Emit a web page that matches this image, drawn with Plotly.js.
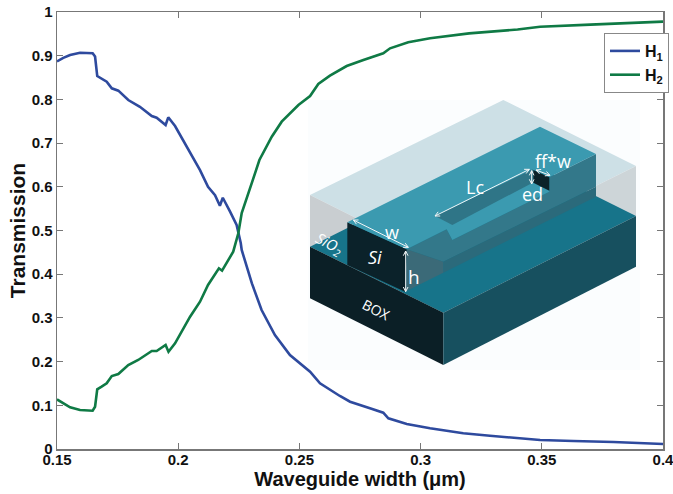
<!DOCTYPE html>
<html>
<head>
<meta charset="utf-8">
<script src="https://cdn.plot.ly/plotly-3.0.1.min.js"></script>
<style>html,body{margin:0;padding:0;background:#fff}#c{width:673px;height:494px}</style>
</head>
<body>
<div id="c"></div>
<script>
const h1Width = [.15,.1526,.1554,.1595,.1647,.1657,.1666,.1705,.1726,.1753,.1794,.1842,.1891,.1911,.1948,.1959,.1987,.2049,.209,.2123,.2152,.2172,.2184,.2214,.2241,.2258,.2262,.2304,.2344,.2399,.2461,.2544,.2585,.2667,.2709,.2791,.2846,.2867,.2943,.3039,.3176,.3286,.3493,.363,.3795,.4];
const h1Values = [.887,.895,.9016,.9068,.9055,.898,.8535,.8405,.8253,.82,.7986,.783,.762,.758,.7414,.759,.739,.6766,.638,.6,.581,.5567,.575,.543,.5126,.4714,.4554,.379,.318,.2609,.2151,.1769,.1503,.1213,.1082,.0931,.0831,.0702,.0572,.0474,.0359,.0304,.0206,.0183,.016,.0114];
const h2Width = [.15,.1526,.1554,.1595,.1647,.1657,.1666,.1684,.1705,.1726,.1753,.1794,.1835,.1891,.1911,.1948,.196,.1987,.2049,.209,.2123,.2168,.2181,.2227,.2248,.2262,.2296,.231,.2335,.2386,.2427,.2496,.2544,.2578,.2626,.2695,.2764,.2846,.2874,.2949,.3039,.32,.34,.3493,.37,.385,.4];
const h2Values = [.1136,.1045,.0954,.0892,.0877,.0968,.1366,.1426,.1503,.167,.1716,.1922,.2037,.2243,.2243,.238,.2227,.2419,.3028,.337,.3753,.4135,.408,.4515,.4936,.54,.6,.6194,.6613,.7147,.749,.787,.8078,.8352,.8542,.8764,.8902,.9055,.9169,.9307,.9398,.951,.96,.9664,.971,.975,.978];
const xTicks = [.15,.2,.25,.3,.35,.4];
const xLabels = ['0.15','0.2','0.25','0.3','0.35','0.4'];
const yTicks = [0,.1,.2,.3,.4,.5,.6,.7,.8,.9,1];
const yLabels = ['0','0.1','0.2','0.3','0.4','0.5','0.6','0.7','0.8','0.9','1'];

// Inset schematic, drawn in page pixels (left, top, width, height of the plot box below)
const L=57,T=12,W=606,H=437;
const sx=z=>290+z/3, sy=z=>90+z/3;
const px=x=>(sx(x)-L)/W, py=y=>1-(sy(y)-T)/H;
const poly=(pts,fill)=>({type:'path',xref:'paper',yref:'paper',layer:'below',fillcolor:fill,line:{width:0},
  path:pts.map((p,i)=>(i?'L':'M')+px(p[0]).toFixed(5)+' '+py(p[1]).toFixed(5)).join(' ')+' Z'});
const insetFaces = [
  [[54,30],[1050,30],[1050,840],[54,840],'#fbfdfe'],
  [[60,315],[640,30],[1038,228],[460,515],'#cde0e6'],
  [[60,315],[460,515],[460,668],[60,470],'#c9ced1'],
  [[1038,228],[1038,378],[460,668],[460,515],'#cdd5d8'],
  [[60,470],[640,180],[1038,378],[460,668],'#17748a'],
  [[60,470],[460,668],[460,825],[60,625],'#0b1f26'],
  [[460,668],[1038,378],[1038,530],[460,825],'#17505f'],
  [[350,478],[470,418],[487,450],[778,305],[778,262],[918,192],[918,290],[460,515],'#33788a'],
  [[460,515],[918,290],[918,320],[460,548],'#2b6a7b'],
  [[350,478],[460,515],[460,548],[345,605],'#3b6a78'],
  [[172,397],[350,478],[345,605],[172,525],'#0b222a'],
  [[172,397],[750,110],[918,192],[778,262],[778,305],[487,450],[470,418],[350,478],'#3b9ab0'],
  [[435,378],[728,238],[728,278],[487,405],'#2f7587'],
  [[730,240],[778,262],[778,302],[730,278],'#0b2229']
];
const shapes = insetFaces.map(f=>poly(f.slice(0,-1),f[f.length-1]));

// Double-headed white dimension arrows
const dimensionArrows = [[190,390,355,472],[347,483,347,605],[435,378,718,238],[725,242,725,282],[738,240,780,256]];
function head(x,y,dx,dy){
  const n=Math.hypot(dx,dy),u=dx/n,v=dy/n,s=14,w=7;
  return {type:'path',xref:'paper',yref:'paper',line:{color:'#f2f6f7',width:1},layer:'above',
    path:'M'+px(x+u*s+v*w)+' '+py(y+v*s-u*w)+' L'+px(x)+' '+py(y)+' L'+px(x+u*s-v*w)+' '+py(y+v*s+u*w)};
}
dimensionArrows.forEach(a=>{
  const [x0,y0,x1,y1]=a;
  shapes.push({type:'line',xref:'paper',yref:'paper',x0:px(x0),y0:py(y0),x1:px(x1),y1:py(y1),line:{color:'#f2f6f7',width:1}});
  shapes.push(head(x0,y0,x1-x0,y1-y0));
  shapes.push(head(x1,y1,x0-x1,y0-y1));
});

const label=(t,x,y,size,angle,italic)=>({xref:'paper',yref:'paper',x:px(x),y:py(y),text:t,showarrow:false,
  xanchor:'center',yanchor:'middle',textangle:angle||0,font:{family:'"Open Sans",sans-serif',size:size,color:'#fff',style:italic?'italic':'normal'}});
const annotations = [
  label('SiO<sub>2</sub>',118,463,15,28,true),
  label('w',305,425,18),
  label('Si',255,502,18,0,true),
  label('h',373,560,19),
  label('Lc',555,292,18),
  label('ff*w',790,213,18),
  label('ed',727,312,18),
  label('BOX',258,658,14,27)
];

const axisFont={family:'"Liberation Sans",Arial,sans-serif',size:15,color:'#111',weight:'bold'};
const axisBase={showline:true,mirror:'ticks',linecolor:'#777',linewidth:1.5,ticks:'inside',ticklen:6,tickcolor:'#777',tickwidth:1,showgrid:false,zeroline:false,tickfont:axisFont,ticklabeloverflow:'allow'};

Plotly.newPlot('c',[
  {x:h1Width,y:h1Values,name:'H<sub>1</sub>',mode:'lines',line:{color:'#2e4a9e',width:2.6}},
  {x:h2Width,y:h2Values,name:'H<sub>2</sub>',mode:'lines',line:{color:'#0f7a45',width:2.6}}
],{
  width:673,height:494,margin:{l:L,r:673-L-W,t:T,b:494-T-H,pad:0,autoexpand:false},
  paper_bgcolor:'#fff',plot_bgcolor:'rgba(0,0,0,0)',
  xaxis:Object.assign({},axisBase,{range:[.15,.4],tickvals:xTicks,ticktext:xLabels,tickangle:0,ticklabelstandoff:-4,
    title:{text:'Waveguide width (μm)',font:{family:'"Liberation Sans",Arial,sans-serif',size:20,color:'#111',weight:'bold'},standoff:3}}),
  yaxis:Object.assign({},axisBase,{range:[0,1],tickvals:yTicks,ticktext:yLabels,
    title:{text:'Transmission',font:{family:'"Liberation Sans",Arial,sans-serif',size:21,color:'#111',weight:'bold'},standoff:0}}),
  legend:{x:(604-L)/W,y:1-(33-T)/H,xanchor:'left',yanchor:'top',bgcolor:'#fff',bordercolor:'#888',borderwidth:1,
    font:{family:'"Liberation Sans",Arial,sans-serif',size:16,color:'#111',weight:'bold'},itemwidth:30,entrywidth:14,entrywidthmode:'pixels'},
  shapes:shapes,annotations:annotations,showlegend:true
},{displayModeBar:false,staticPlot:true});
</script>
</body>
</html>
